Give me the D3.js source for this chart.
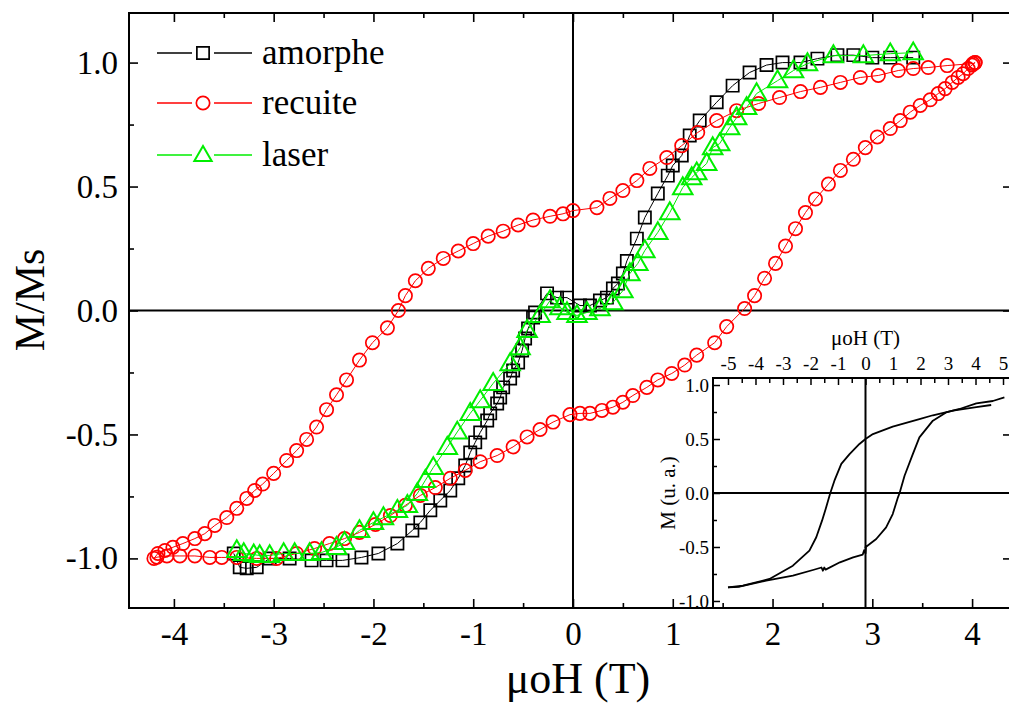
<!DOCTYPE html>
<html><head><meta charset="utf-8">
<script src="https://cdn.jsdelivr.net/npm/d3@7"></script>
<style>
body{margin:0;background:#fff}
svg{display:block}
text{font-family:"Liberation Serif","Times New Roman",serif;fill:#000}
</style>
</head><body>
<svg id="c" width="1009" height="704"></svg>
<script>
// ---------- data ----------
const seriesNames = ["amorphe", "recuite", "laser"];
const seriesColors = ["#000000", "#ff0000", "#00ee00"];

const amorpheH = [-3.4,-3.34,-3.27,-3.17,-3.04,-2.84,-2.62,-2.47,-2.31,-2.12,-1.95,-1.76,-1.61,-1.53,-1.43,-1.33,-1.23,-1.15,-1.08,-1.03,-0.98,-0.93,-0.86,-0.83,-0.76,-0.73,-0.7,-0.63,-0.6,-0.55,-0.51,-0.48,-0.45,-0.4,-0.38,-0.26,-0.16,-0.06,0.07,0.17,0.27,0.34,0.4,0.45,0.5,0.54,0.64,0.72,0.85,0.95,1.0,1.09,1.17,1.27,1.44,1.6,1.77,1.94,2.1,2.28,2.45,2.65,2.81,3.0,3.18,3.41];
const amorpheM = [-0.98,-1.036,-1.04,-1.036,-1.0,-1.0,-1.008,-1.008,-1.008,-0.996,-0.98,-0.94,-0.887,-0.855,-0.806,-0.766,-0.726,-0.677,-0.625,-0.573,-0.532,-0.492,-0.444,-0.415,-0.375,-0.351,-0.31,-0.274,-0.242,-0.21,-0.161,-0.113,-0.073,-0.028,-0.008,0.069,0.052,0.052,0.02,0.02,0.04,0.052,0.089,0.109,0.149,0.2,0.29,0.375,0.472,0.544,0.585,0.625,0.706,0.766,0.84,0.907,0.96,0.99,1.0,1.0,1.016,1.03,1.03,1.02,1.02,1.02];

const recuiteH = [4.03,4.01,3.75,3.56,3.41,3.26,3.06,2.88,2.68,2.48,2.28,2.07,1.86,1.64,1.44,1.25,1.09,0.94,0.77,0.64,0.5,0.37,0.24,0.0,-0.1,-0.23,-0.4,-0.55,-0.7,-0.85,-1.0,-1.15,-1.3,-1.45,-1.58,-1.68,-1.75,-1.86,-2.01,-2.14,-2.27,-2.37,-2.47,-2.57,-2.67,-2.77,-2.87,-3.0,-3.11,-3.19,-3.27,-3.37,-3.47,-3.59,-3.69,-3.79,-3.91,-4.01,-4.09,-4.16,-4.2,
  -4.17,-4.07,-3.94,-3.79,-3.64,-3.52,-3.37,-3.17,-2.97,-2.77,-2.59,-2.44,-2.29,-2.14,-1.98,-1.83,-1.68,-1.53,-1.38,-1.23,-1.08,-0.93,-0.76,-0.6,-0.46,-0.33,-0.2,-0.03,0.07,0.17,0.29,0.4,0.5,0.6,0.74,0.85,0.99,1.12,1.24,1.42,1.54,1.72,1.82,1.92,2.03,2.13,2.23,2.33,2.43,2.56,2.68,2.81,2.93,3.05,3.18,3.28,3.38,3.48,3.58,3.66,3.73,3.8,3.86,3.91,3.96,4.0,4.03];
const recuiteM = [1.0,0.996,0.988,0.98,0.976,0.968,0.948,0.94,0.92,0.9,0.883,0.859,0.835,0.806,0.766,0.718,0.665,0.617,0.573,0.524,0.484,0.452,0.415,0.403,0.39,0.38,0.365,0.345,0.32,0.3,0.27,0.24,0.21,0.17,0.12,0.06,0.0,-0.07,-0.13,-0.2,-0.28,-0.34,-0.4,-0.47,-0.52,-0.565,-0.605,-0.657,-0.7,-0.726,-0.758,-0.798,-0.835,-0.867,-0.9,-0.92,-0.94,-0.955,-0.968,-0.98,-1.0,
  -0.995,-0.99,-0.99,-0.99,-0.996,-0.996,-0.996,-1.0,-1.0,-0.98,-0.96,-0.94,-0.92,-0.895,-0.863,-0.827,-0.786,-0.746,-0.714,-0.677,-0.645,-0.61,-0.585,-0.55,-0.51,-0.48,-0.45,-0.42,-0.415,-0.415,-0.403,-0.39,-0.37,-0.343,-0.31,-0.28,-0.254,-0.22,-0.18,-0.13,-0.065,0.008,0.06,0.13,0.19,0.26,0.33,0.395,0.45,0.51,0.565,0.61,0.657,0.7,0.734,0.766,0.8,0.827,0.85,0.875,0.895,0.92,0.94,0.955,0.976,0.99,1.0];

const laserH = [-3.37,-3.3,-3.2,-3.14,-3.04,-2.9,-2.79,-2.64,-2.52,-2.37,-2.29,-2.14,-2.0,-1.9,-1.76,-1.66,-1.56,-1.48,-1.4,-1.26,-1.16,-1.03,-0.93,-0.8,-0.63,-0.53,-0.46,-0.33,-0.23,-0.13,-0.06,0.04,0.14,0.27,0.4,0.5,0.57,0.65,0.72,0.85,0.97,1.1,1.19,1.24,1.34,1.4,1.47,1.57,1.64,1.74,1.84,2.05,2.21,2.35,2.61,2.91,3.18,3.41];
const laserM = [-0.968,-0.98,-0.985,-0.988,-0.988,-0.98,-0.98,-0.98,-0.976,-0.955,-0.935,-0.887,-0.855,-0.835,-0.806,-0.786,-0.738,-0.685,-0.633,-0.552,-0.49,-0.415,-0.363,-0.294,-0.214,-0.15,-0.08,-0.02,0.04,0.012,-0.008,-0.02,-0.008,0.008,0.032,0.08,0.149,0.19,0.242,0.315,0.395,0.496,0.536,0.556,0.593,0.657,0.673,0.738,0.778,0.819,0.875,0.927,0.968,0.996,1.028,1.028,1.036,1.04];

// inset loop
const insetDownH = [4.57,4.03,3.18,2.45,1.96,0.99,0.27,0.0,-0.22,-0.58,-0.88,-1.13,-1.28,-1.43,-1.58,-1.79,-2.04,-2.64,-3.49,-4.46,-5.0];
const insetDownM = [0.815,0.795,0.762,0.72,0.685,0.614,0.546,0.5,0.454,0.36,0.27,0.114,0.0,-0.133,-0.256,-0.41,-0.534,-0.673,-0.796,-0.858,-0.874];
const insetUpH = [-5.0,-4.58,-3.61,-2.64,-1.91,-1.6,-1.55,-1.5,-1.45,-0.93,-0.45,-0.1,-0.05,0.0,0.02,0.0,0.39,0.75,0.99,1.18,1.24,1.42,1.72,1.96,2.45,2.93,3.42,4.03,4.63,5.05];
const insetUpM = [-0.874,-0.868,-0.812,-0.766,-0.713,-0.69,-0.72,-0.69,-0.71,-0.642,-0.596,-0.57,-0.53,-0.56,-0.49,-0.503,-0.426,-0.318,-0.195,-0.04,0.0,0.16,0.36,0.515,0.67,0.746,0.778,0.83,0.852,0.885];

const mainXTicks = [-4,-3,-2,-1,0,1,2,3,4];
const mainYTicks = [-1.0,-0.5,0.0,0.5,1.0];
const insetXTicks = [-5,-4,-3,-2,-1,0,1,2,3,4,5];
const insetYTicks = [-1.0,-0.5,0.0,0.5,1.0];
const xTitle = "μoH (T)";
const yTitle = "M/Ms";
const insetYTitle = "M (u. a.)";

// ---------- drawing ----------
const svg = d3.select("#c");
const W = 1009, H = 704;
svg.append("rect").attr("width", W).attr("height", H).attr("fill", "#fff");

const L = 129, R = 1012, T = 13, B = 608;
const x = d3.scaleLinear().domain([-4.45, 4.4]).range([L, R]);
const y = d3.scaleLinear().domain([-1.2, 1.2]).range([B, T]);

function halfSteps(lo, hi, step) { const a = []; for (let v = lo; v <= hi + 1e-9; v += step) a.push(+v.toFixed(3)); return a; }
const fmtInt = d => String(d);
const fmt1 = d => d.toFixed(1);

const axes = svg.append("g");
// bottom
axes.append("g").attr("transform", `translate(0,${B})`)
  .call(d3.axisBottom(x).tickValues(mainXTicks).tickSizeInner(-9).tickSizeOuter(0).tickPadding(14).tickFormat(fmtInt))
  .call(g => g.selectAll("text").attr("font-size", 33))
  .call(g => g.select(".domain").remove());
axes.append("g").attr("transform", `translate(0,${B})`)
  .call(d3.axisBottom(x).tickValues(halfSteps(-4.5, 4.5, 1).filter(v => v > -4.45 && v < 4.4)).tickSizeInner(-5).tickSizeOuter(0).tickFormat(""))
  .call(g => g.select(".domain").remove());
// top
axes.append("g").attr("transform", `translate(0,${T})`)
  .call(d3.axisTop(x).tickValues(mainXTicks).tickSizeInner(-9).tickSizeOuter(0).tickFormat(""))
  .call(g => g.select(".domain").remove());
axes.append("g").attr("transform", `translate(0,${T})`)
  .call(d3.axisTop(x).tickValues(halfSteps(-3.5, 3.5, 1)).tickSizeInner(-5).tickSizeOuter(0).tickFormat(""))
  .call(g => g.select(".domain").remove());
// left
axes.append("g").attr("transform", `translate(${L},0)`)
  .call(d3.axisLeft(y).tickValues(mainYTicks).tickSizeInner(-9).tickSizeOuter(0).tickPadding(11).tickFormat(fmt1))
  .call(g => g.selectAll("text").attr("font-size", 33))
  .call(g => g.select(".domain").remove());
axes.append("g").attr("transform", `translate(${L},0)`)
  .call(d3.axisLeft(y).tickValues([-0.75,-0.25,0.25,0.75]).tickSizeInner(-5).tickSizeOuter(0).tickFormat(""))
  .call(g => g.select(".domain").remove());
// right
axes.append("g").attr("transform", `translate(${R},0)`)
  .call(d3.axisRight(y).tickValues(mainYTicks).tickSizeInner(-9).tickSizeOuter(0).tickFormat(""))
  .call(g => g.select(".domain").remove());
axes.selectAll(".tick line").attr("stroke", "#000").attr("stroke-width", 1.6);

// frame
svg.append("rect").attr("x", L).attr("y", T).attr("width", R - L).attr("height", B - T)
  .attr("fill", "none").attr("stroke", "#000").attr("stroke-width", 2);
// zero lines
svg.append("line").attr("x1", x(0)).attr("x2", x(0)).attr("y1", T).attr("y2", B).attr("stroke", "#000").attr("stroke-width", 2);
svg.append("line").attr("x1", L).attr("x2", R).attr("y1", y(0)).attr("y2", y(0)).attr("stroke", "#000").attr("stroke-width", 2);

// titles
svg.append("text").attr("x", 578).attr("y", 693).attr("text-anchor", "middle").attr("font-size", 44).text(xTitle);
svg.append("text").attr("transform", `translate(44,300) rotate(-90)`).attr("text-anchor", "middle").attr("font-size", 42).text(yTitle);

// ---------- inset ----------
const iL = 713, iR = 1018, iT = 378, iB = 608;
const xi = d3.scaleLinear().domain([-5.545, 5.545]).range([iL, iR]);
const yi = d3.scaleLinear().domain([-1.065, 1.065]).range([iB, iT]);
const inset = svg.append("g");
inset.append("g").attr("transform", `translate(0,${iT})`)
  .call(d3.axisTop(xi).tickValues(insetXTicks).tickSizeInner(-7).tickSizeOuter(0).tickPadding(8).tickFormat(fmtInt))
  .call(g => g.selectAll("text").attr("font-size", 19))
  .call(g => g.select(".domain").remove());
inset.append("g").attr("transform", `translate(0,${iT})`)
  .call(d3.axisTop(xi).tickValues(halfSteps(-4.5, 4.5, 1)).tickSizeInner(-5).tickSizeOuter(0).tickFormat(""))
  .call(g => g.select(".domain").remove());
inset.append("g").attr("transform", `translate(${iL},0)`)
  .call(d3.axisLeft(yi).tickValues(insetYTicks).tickSizeInner(-7).tickSizeOuter(0).tickPadding(4).tickFormat(fmt1))
  .call(g => g.selectAll("text").attr("font-size", 19))
  .call(g => g.select(".domain").remove());
inset.append("g").attr("transform", `translate(${iL},0)`)
  .call(d3.axisLeft(yi).tickValues([-0.75,-0.25,0.25,0.75]).tickSizeInner(-4).tickSizeOuter(0).tickFormat(""))
  .call(g => g.select(".domain").remove());
inset.selectAll(".tick line").attr("stroke", "#000").attr("stroke-width", 1.5);
inset.append("rect").attr("x", iL).attr("y", iT).attr("width", iR - iL).attr("height", iB - iT)
  .attr("fill", "none").attr("stroke", "#000").attr("stroke-width", 2);
inset.append("line").attr("x1", xi(0)).attr("x2", xi(0)).attr("y1", iT).attr("y2", iB).attr("stroke", "#000").attr("stroke-width", 2);
inset.append("line").attr("x1", iL).attr("x2", iR).attr("y1", yi(0)).attr("y2", yi(0)).attr("stroke", "#000").attr("stroke-width", 2);
inset.append("text").attr("x", xi(0)).attr("y", 345).attr("text-anchor", "middle").attr("font-size", 21).text(xTitle);
inset.append("text").attr("transform", `translate(675,${yi(0)}) rotate(-90)`).attr("text-anchor", "middle").attr("font-size", 21).text(insetYTitle);
const iline = d3.line().x(d => xi(d[0])).y(d => yi(d[1]));
[[insetDownH, insetDownM], [insetUpH, insetUpM]].forEach(([hs, ms]) => {
  inset.append("path").attr("d", iline(hs.map((h, i) => [h, ms[i]])))
    .attr("fill", "none").attr("stroke", "#000").attr("stroke-width", 1.8).attr("stroke-linejoin", "round");
});

// ---------- series ----------
const line = d3.line().x(d => x(d[0])).y(d => y(d[1]));
const symSquare = d3.symbol().type(d3.symbolSquare).size(150)();
const symCircle = d3.symbol().type(d3.symbolCircle).size(140)();
const symTri = d3.symbol().type(d3.symbolTriangle).size(165)();
const symbols = [symSquare, symCircle, symTri];
const seriesData = [[amorpheH, amorpheM], [recuiteH, recuiteM], [laserH, laserM]];

const plot = svg.append("g");
seriesData.forEach(([hs, ms], k) => {
  const pts = hs.map((h, i) => [h, ms[i]]);
  const g = plot.append("g");
  g.append("path").attr("d", line(pts)).attr("fill", "none").attr("stroke", seriesColors[k]).attr("stroke-width", 1);
  g.selectAll("path.m").data(pts).join("path").attr("class", "m")
    .attr("transform", d => `translate(${x(d[0])},${y(d[1]) + (k === 2 ? 1 : 0)})`)
    .attr("d", symbols[k]).attr("fill", "none").attr("stroke", seriesColors[k]).attr("stroke-width", k === 2 ? 2 : 1.7);
});

// ---------- legend ----------
const legY = [53, 103, 155];
const leg = svg.append("g");
seriesNames.forEach((name, k) => {
  leg.append("line").attr("x1", 157).attr("x2", 192).attr("y1", legY[k]).attr("y2", legY[k]).attr("stroke", seriesColors[k]).attr("stroke-width", 1.5);
  leg.append("line").attr("x1", 214).attr("x2", 252).attr("y1", legY[k]).attr("y2", legY[k]).attr("stroke", seriesColors[k]).attr("stroke-width", 1.5);
  leg.append("path").attr("transform", `translate(203,${legY[k] + (k === 2 ? 1 : 0)})`).attr("d", k === 2 ? d3.symbol().type(d3.symbolTriangle).size(130)() : symbols[k])
    .attr("fill", "none").attr("stroke", seriesColors[k]).attr("stroke-width", k === 2 ? 2 : 1.7);
  leg.append("text").attr("x", 262).attr("y", legY[k]).attr("dy", "0.3em").attr("font-size", 35).text(name);
});
</script>
</body></html>
